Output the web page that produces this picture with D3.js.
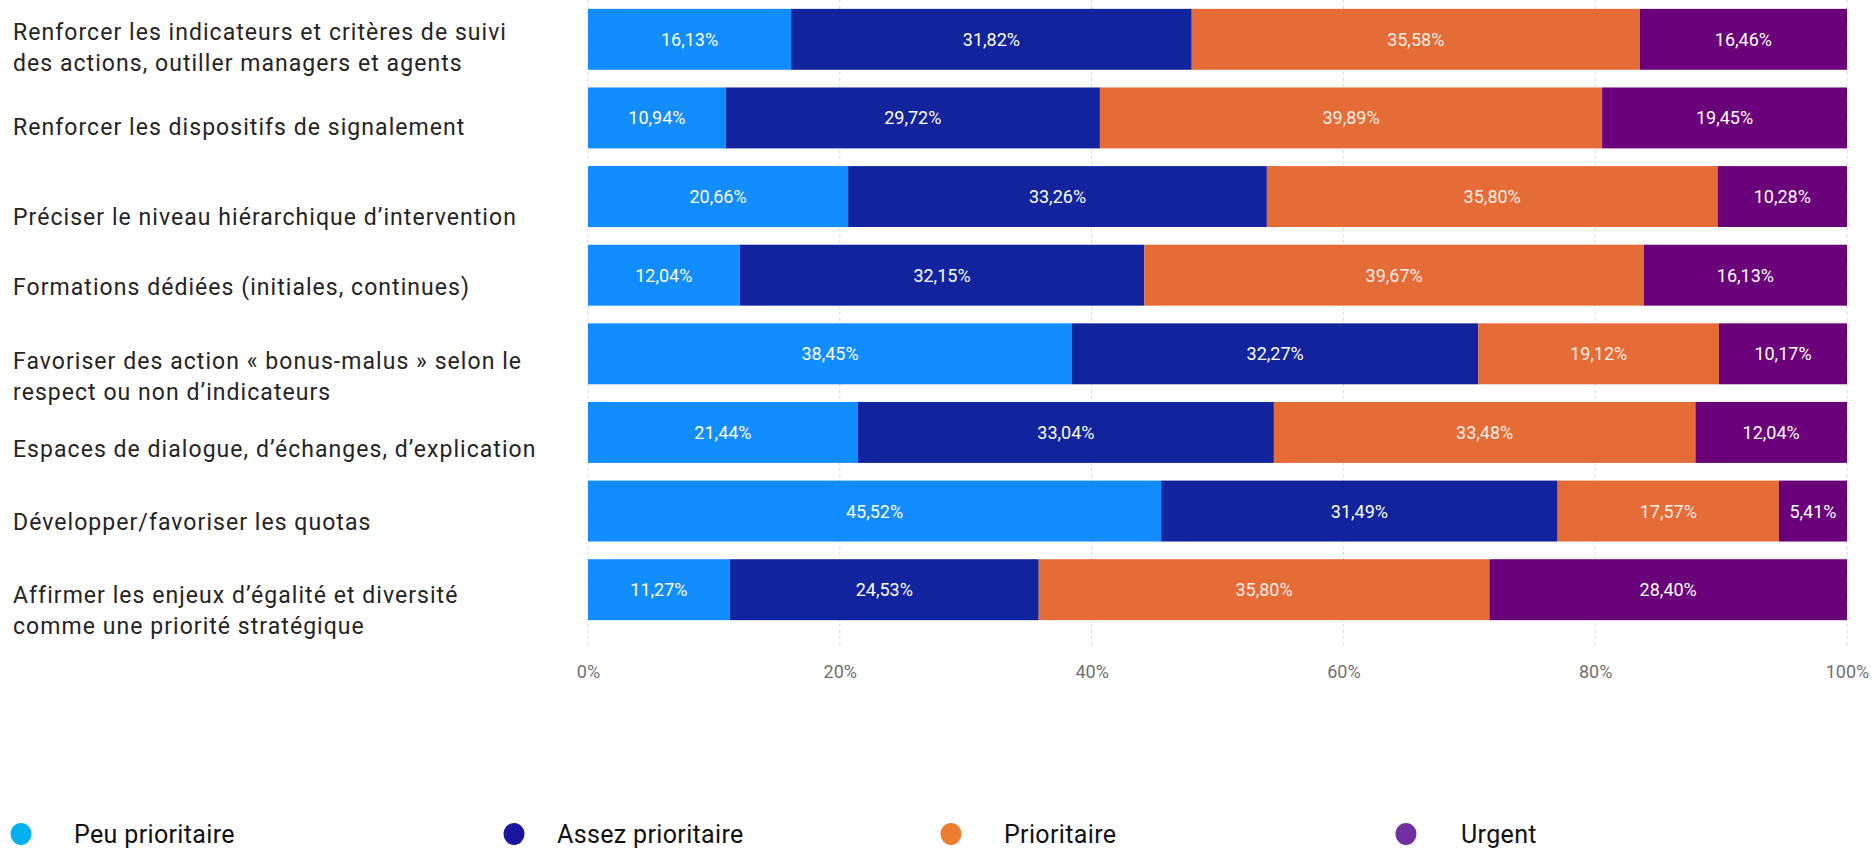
<!DOCTYPE html>
<html lang="fr">
<head>
<meta charset="utf-8">
<script src="https://cdn.jsdelivr.net/npm/d3@7"></script>
<style>
  html, body { margin: 0; padding: 0; background: #ffffff; }
  svg { display: block; }
</style>
</head>
<body>
<svg id="chart" width="1874" height="851"></svg>
<script>
// Actions (one per bar, top to bottom); each label is split into its display lines
const categories = [
  ["Renforcer les indicateurs et critères de suivi", "des actions, outiller managers et agents"],
  ["Renforcer les dispositifs de signalement"],
  ["Préciser le niveau hiérarchique d’intervention"],
  ["Formations dédiées (initiales, continues)"],
  ["Favoriser des action « bonus-malus » selon le", "respect ou non d’indicateurs"],
  ["Espaces de dialogue, d’échanges, d’explication"],
  ["Développer/favoriser les quotas"],
  ["Affirmer les enjeux d’égalité et diversité", "comme une priorité stratégique"]
];

// Priority levels (stack order, left to right)
const seriesNames = ["Peu prioritaire", "Assez prioritaire", "Prioritaire", "Urgent"];

// Share of answers per level, in %, one array per level, in category order
const peuPrioritaire    = [16.13, 10.94, 20.66, 12.04, 38.45, 21.44, 45.52, 11.27];
const assezPrioritaire  = [31.82, 29.72, 33.26, 32.15, 32.27, 33.04, 31.49, 24.53];
const prioritaire       = [35.58, 39.89, 35.80, 39.67, 19.12, 33.48, 17.57, 35.80];
const urgent            = [16.46, 19.45, 10.28, 16.13, 10.17, 12.04,  5.41, 28.40];

// Axis tick values (fractions of the whole bar)
const tickValues = [0, 0.2, 0.4, 0.6, 0.8, 1];

// ---- styling ----
const barColors    = ["#118DFF", "#12239E", "#E66C37", "#6B007B"];
const legendColors = ["#00B0F0", "#1A159F", "#ED7D31", "#7030A0"];

// vertical nudge of each category label block relative to its bar centre
const labelShift = [8, 9, 20, 12, 23, 17, 11, 21];

const svg = d3.select("#chart");

const frLocale = d3.formatLocale({ decimal: ",", thousands: "\u00a0", grouping: [3], currency: ["", " €"] });
const fmtPct   = frLocale.format(".2f");

// Build row objects for d3.stack
const rows = categories.map((c, i) => ({
  key: i,
  "Peu prioritaire": peuPrioritaire[i],
  "Assez prioritaire": assezPrioritaire[i],
  "Prioritaire": prioritaire[i],
  "Urgent": urgent[i]
}));

const stacked = d3.stack()
  .keys(seriesNames)
  .offset(d3.stackOffsetExpand)(rows);

const x = d3.scaleLinear().domain([0, 1]).range([588, 1847]);
const y = d3.scaleBand()
  .domain(d3.range(categories.length))
  .range([0, 629])
  .paddingInner(0.225)
  .paddingOuter(0.1125);

const color = d3.scaleOrdinal().domain(seriesNames).range(barColors);

// Dashed vertical gridlines
svg.append("g")
  .selectAll("line")
  .data(tickValues)
  .join("line")
  .attr("x1", d => x(d)).attr("x2", d => x(d))
  .attr("y1", 0).attr("y2", 648)
  .attr("stroke", "#d9d9d9")
  .attr("stroke-width", 1)
  .attr("stroke-dasharray", "3,3");

// Stacked bar segments
const layers = svg.append("g")
  .selectAll("g")
  .data(stacked)
  .join("g")
  .attr("fill", d => color(d.key));

layers.selectAll("rect")
  .data(d => d)
  .join("rect")
  .attr("x", d => x(d[0]))
  .attr("y", d => y(d.data.key))
  .attr("width", d => x(d[1]) - x(d[0]))
  .attr("height", y.bandwidth());

// Value labels centred in each segment
const rawBySeries = {
  "Peu prioritaire": peuPrioritaire,
  "Assez prioritaire": assezPrioritaire,
  "Prioritaire": prioritaire,
  "Urgent": urgent
};

svg.append("g")
  .selectAll("g")
  .data(stacked)
  .join("g")
  .selectAll("text")
  .data(s => s.map(d => ({ seg: d, key: s.key })))
  .join("text")
  .attr("x", d => (x(d.seg[0]) + x(d.seg[1])) / 2)
  .attr("y", d => y(d.seg.data.key) + y.bandwidth() / 2)
  .attr("text-anchor", "middle")
  .attr("dominant-baseline", "central")
  .attr("font-family", "'Liberation Sans Narrow', 'Roboto', sans-serif")
  .attr("font-size", 18)
  .attr("fill", d => d.key === "Prioritaire" ? "#fbeee6" : "#ffffff")
  .text(d => fmtPct(rawBySeries[d.key][d.seg.data.key]) + "%");

// Bottom axis tick labels
const xAxis = d3.axisBottom(x)
  .tickValues(tickValues)
  .tickFormat(d3.format(".0%"))
  .tickSize(0)
  .tickPadding(0);

const axisG = svg.append("g")
  .attr("transform", "translate(0,665)")
  .call(xAxis);
axisG.select(".domain").remove();
axisG.selectAll("text")
  .attr("font-family", "'Liberation Sans Narrow', 'Roboto', sans-serif")
  .attr("font-size", 18)
  .attr("fill", "#707070");

// Category labels on the left
const lineGap = 31;
const catG = svg.append("g")
  .selectAll("text")
  .data(categories)
  .join("text")
  .attr("font-family", "Roboto, sans-serif")
  .attr("font-size", 23)
  .attr("letter-spacing", "1.05px")
  .attr("fill", "#252423")
  .attr("dominant-baseline", "central");

catG.each(function (lines, i) {
  const cy = y(i) + y.bandwidth() / 2 + labelShift[i];
  const top = cy - (lines.length - 1) * lineGap / 2;
  d3.select(this).selectAll("tspan")
    .data(lines)
    .join("tspan")
    .attr("x", 13)
    .attr("y", (d, k) => top + k * lineGap)
    .text(d => d);
});

// Legend: dot centres and text starts
const legendDotX  = [21, 514, 951, 1406];
const legendTextX = [74, 557, 1004, 1461];
const legend = svg.append("g")
  .selectAll("g")
  .data(seriesNames)
  .join("g");

legend.append("ellipse")
  .attr("cx", (d, i) => legendDotX[i])
  .attr("cy", 834)
  .attr("rx", 10.5).attr("ry", 11)
  .attr("fill", (d, i) => legendColors[i]);

legend.append("text")
  .attr("x", (d, i) => legendTextX[i])
  .attr("y", 834)
  .attr("dominant-baseline", "central")
  .attr("font-family", "Roboto, sans-serif")
  .attr("font-size", 25)
  .attr("letter-spacing", "0.35px")
  .attr("fill", "#111111")
  .text(d => d);
</script>
</body>
</html>
